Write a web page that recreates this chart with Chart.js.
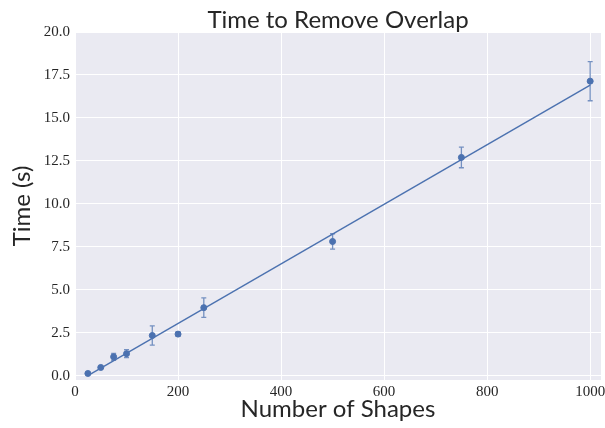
<!DOCTYPE html>
<html>
<head>
<meta charset="utf-8">
<script src="https://cdn.jsdelivr.net/npm/chart.js@4.4.1/dist/chart.umd.min.js"></script>
<style>
  html, body { margin: 0; padding: 0; background: #ffffff; }
  #wrap { width: 605px; height: 428px; }
</style>
</head>
<body>
<div id="wrap"><canvas id="grafico" width="605" height="428"></canvas></div>
<script>
// medidas: cantidad de formas vs. tiempo medio (s) y su desvío
const shapes = [25, 50, 75, 100, 150, 200, 250, 500, 750, 1000];
const meanTime = [0.13, 0.48, 1.10, 1.28, 2.34, 2.42, 3.96, 7.81, 12.70, 17.14];
const errTime = [0.05, 0.05, 0.20, 0.23, 0.56, 0.13, 0.57, 0.45, 0.60, 1.14];

// recta ajustada (extremos)
const fitX = [25, 1000];
const fitY = [0.0, 16.91];

const xTicks = [0, 200, 400, 600, 800, 1000];
const yTicks = [0, 2.5, 5, 7.5, 10, 12.5, 15, 17.5, 20];

const AZUL = "#4C72B0";

// fondo gris del área de datos
const fondoPlugin = {
    id: "fondo",
    beforeDraw(chart) {
        const { ctx, chartArea: a } = chart;
        ctx.save();
        ctx.fillStyle = "#EAEAF2";
        ctx.fillRect(a.left, a.top, a.right - a.left, a.bottom - a.top);
        ctx.restore();
    }
};

// barras de error verticales sobre los puntos
const errorPlugin = {
    id: "errores",
    afterDatasetsDraw(chart) {
        const { ctx } = chart;
        const meta = chart.getDatasetMeta(0);
        const yScale = chart.scales.y;
        ctx.save();
        ctx.strokeStyle = "rgba(76,114,176,0.75)";
        ctx.lineWidth = 1.3;
        meta.data.forEach((pt, i) => {
            const y1 = yScale.getPixelForValue(meanTime[i] + errTime[i]);
            const y2 = yScale.getPixelForValue(meanTime[i] - errTime[i]);
            const x = pt.x;
            ctx.beginPath();
            ctx.moveTo(x, y1); ctx.lineTo(x, y2);
            ctx.moveTo(x - 2.5, y1); ctx.lineTo(x + 2.5, y1);
            ctx.moveTo(x - 2.5, y2); ctx.lineTo(x + 2.5, y2);
            ctx.stroke();
        });
        ctx.restore();
    }
};

const fuenteTicks = { family: "'Liberation Serif', 'DejaVu Serif', serif", size: 15 };
const fuenteTitulos = "Lato, 'Open Sans', sans-serif";

new Chart(document.getElementById("grafico"), {
    type: "scatter",
    data: {
        datasets: [
            {
                label: "Mediciones",
                data: shapes.map((s, i) => ({ x: s, y: meanTime[i] })),
                backgroundColor: AZUL,
                borderColor: AZUL,
                pointRadius: 3,
                pointHoverRadius: 3,
                order: 2
            },
            {
                label: "Ajuste",
                type: "line",
                data: fitX.map((x, i) => ({ x, y: fitY[i] })),
                borderColor: AZUL,
                borderWidth: 1.4,
                pointRadius: 0,
                fill: false,
                order: 1
            }
        ]
    },
    options: {
        responsive: false,
        animation: false,
        layout: { padding: 0 },
        plugins: {
            legend: { display: false },
            tooltip: { enabled: false },
            title: {
                display: true,
                fullSize: false,
                text: "Time to Remove Overlap",
                color: "#262626",
                font: { family: fuenteTitulos, size: 24, weight: "normal", lineHeight: 1.0 },
                padding: { top: 8, bottom: 0 }
            }
        },
        scales: {
            x: {
                type: "linear",
                min: 0,
                max: 1021,
                afterBuildTicks: s => { s.ticks = xTicks.map(v => ({ value: v })); },
                afterFit: s => { s.height = 48; s.paddingLeft = 0; s.paddingRight = 0; },
                ticks: {
                    color: "#262626",
                    font: fuenteTicks,
                    padding: 3,
                    maxRotation: 0,
                    callback: v => String(v)
                },
                grid: { color: "#ffffff", lineWidth: 1, drawTicks: false },
                border: { display: false },
                title: {
                    display: true,
                    text: "Number of Shapes",
                    color: "#262626",
                    font: { family: fuenteTitulos, size: 24 },
                    padding: { top: 0, bottom: 4 }
                }
            },
            y: {
                min: -0.25,
                max: 20,
                afterBuildTicks: s => { s.ticks = yTicks.map(v => ({ value: v })); },
                afterFit: s => { s.width = 75; s.paddingTop = 0; s.paddingBottom = 0; },
                ticks: {
                    color: "#262626",
                    font: fuenteTicks,
                    padding: 5,
                    callback: v => v.toFixed(1)
                },
                grid: { color: "#ffffff", lineWidth: 1, drawTicks: false },
                border: { display: false },
                title: {
                    display: true,
                    text: "Time (s)",
                    color: "#262626",
                    font: { family: fuenteTitulos, size: 24 },
                    padding: { top: 8, bottom: 0 }
                }
            }
        }
    },
    plugins: [fondoPlugin, errorPlugin]
});
</script>
</body>
</html>
